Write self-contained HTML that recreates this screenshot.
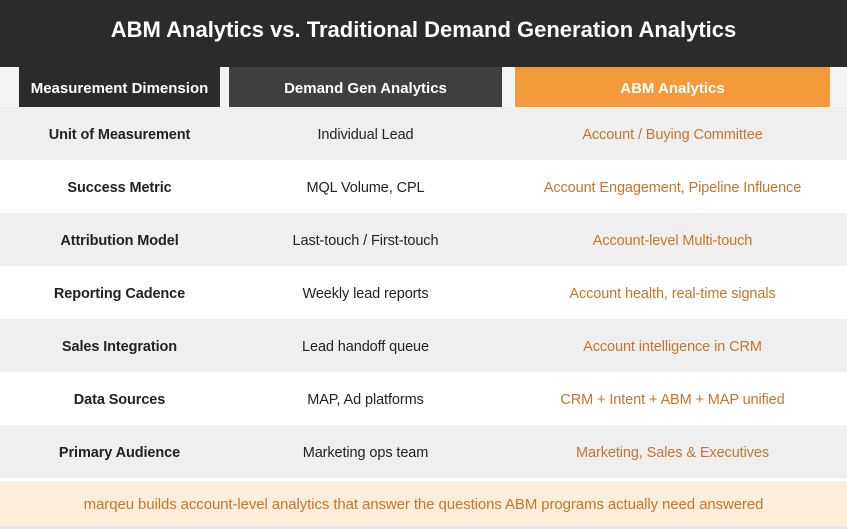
<!DOCTYPE html>
<html><head><meta charset="utf-8"><style>
*{margin:0;padding:0;box-sizing:border-box}
body{width:847px;height:529px;background:#fff;font-family:"Liberation Sans",Arial,sans-serif;position:relative;overflow:hidden}
.title{position:absolute;left:0;top:0;width:847px;height:67px;background:#2b2b2b;color:#fff;font-weight:bold;font-size:22px;text-align:center;line-height:60px}
.hdr{position:absolute;top:67px;height:40px;color:#fff;font-weight:bold;font-size:15px;text-align:center;line-height:43px}
.row{position:absolute;left:0;width:847px;height:53px}
.row div{position:absolute;top:0;height:53px;line-height:57px;text-align:center;font-size:14.5px;letter-spacing:-0.1px}
.c1{left:19px;width:201px;font-weight:bold;color:#222}
.c2{left:229px;width:273px;color:#222}
.c3{left:515px;width:315px;color:#c8742a}
.foot{position:absolute;left:0;top:481px;width:847px;height:45px;background:#fdeedb;color:#c8742a;font-size:15px;text-align:center;line-height:47px;letter-spacing:-0.1px}
</style></head><body>
<div class="title">ABM Analytics vs. Traditional Demand Generation Analytics</div>
<div style="position:absolute;top:67px;left:0;width:847px;height:40px;background:#f4f4f4"></div>
<div class="hdr" style="left:19px;width:201px;background:#2b2b2b">Measurement Dimension</div>
<div class="hdr" style="left:229px;width:273px;background:#3f3f3f">Demand Gen Analytics</div>
<div class="hdr" style="left:515px;width:315px;background:#f39a3a">ABM Analytics</div>

<div class="row" style="top:107px;background:#efefef"><div class="c1">Unit of Measurement</div><div class="c2">Individual Lead</div><div class="c3">Account / Buying Committee</div></div>
<div class="row" style="top:160px;background:#fff"><div class="c1">Success Metric</div><div class="c2">MQL Volume, CPL</div><div class="c3">Account Engagement, Pipeline Influence</div></div>
<div class="row" style="top:213px;background:#efefef"><div class="c1">Attribution Model</div><div class="c2">Last-touch / First-touch</div><div class="c3">Account-level Multi-touch</div></div>
<div class="row" style="top:266px;background:#fff"><div class="c1">Reporting Cadence</div><div class="c2">Weekly lead reports</div><div class="c3">Account health, real-time signals</div></div>
<div class="row" style="top:319px;background:#efefef"><div class="c1">Sales Integration</div><div class="c2">Lead handoff queue</div><div class="c3">Account intelligence in CRM</div></div>
<div class="row" style="top:372px;background:#fff"><div class="c1">Data Sources</div><div class="c2">MAP, Ad platforms</div><div class="c3">CRM + Intent + ABM + MAP unified</div></div>
<div class="row" style="top:425px;background:#efefef"><div class="c1">Primary Audience</div><div class="c2">Marketing ops team</div><div class="c3">Marketing, Sales &amp; Executives</div></div>
<div class="foot">marqeu builds account-level analytics that answer the questions ABM programs actually need answered</div>
<div style="position:absolute;top:526px;left:0;width:847px;height:3px;background:#e6e6e6"></div>
</body></html>
